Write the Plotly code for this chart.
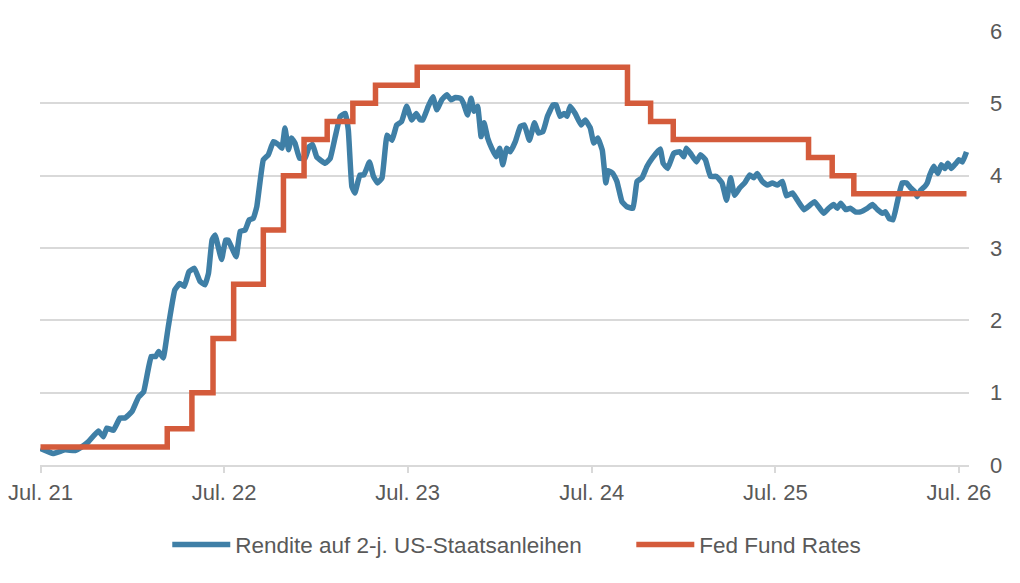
import plotly.graph_objects as go

# 2-year US Treasury yield
blue_dates = [
    "2021-07-01", "2021-07-26", "2021-08-19", "2021-09-08", "2021-09-21", "2021-10-04",
    "2021-10-24", "2021-11-03", "2021-11-10", "2021-11-23", "2021-12-06", "2021-12-16",
    "2021-12-30", "2022-01-12", "2022-01-22", "2022-02-06", "2022-02-15", "2022-02-21",
    "2022-03-02", "2022-03-12", "2022-03-25", "2022-04-04", "2022-04-13", "2022-04-22",
    "2022-05-03", "2022-05-14", "2022-05-24", "2022-05-31", "2022-06-07", "2022-06-13",
    "2022-06-26", "2022-07-04", "2022-07-09", "2022-07-25", "2022-08-02", "2022-08-12",
    "2022-08-20", "2022-08-28", "2022-09-04", "2022-09-17", "2022-09-27", "2022-10-07",
    "2022-10-17", "2022-10-24", "2022-10-30", "2022-11-06", "2022-11-12", "2022-11-19",
    "2022-11-28", "2022-12-09", "2022-12-17", "2022-12-24", "2023-01-01", "2023-01-18",
    "2023-01-28", "2023-02-07", "2023-02-17", "2023-02-27", "2023-03-05", "2023-03-12",
    "2023-03-18", "2023-03-28", "2023-04-05", "2023-04-16", "2023-04-24", "2023-05-02",
    "2023-05-11", "2023-05-21", "2023-05-31", "2023-06-09", "2023-06-19", "2023-06-29",
    "2023-07-09", "2023-07-18", "2023-07-26", "2023-07-31", "2023-08-11", "2023-08-20",
    "2023-08-28", "2023-09-07", "2023-09-17", "2023-09-25", "2023-10-04", "2023-10-14",
    "2023-10-20", "2023-10-28", "2023-11-04", "2023-11-10", "2023-11-17", "2023-11-24",
    "2023-11-30", "2023-12-07", "2023-12-15", "2023-12-24", "2023-12-31", "2024-01-06",
    "2024-01-14", "2024-01-21", "2024-01-31", "2024-02-10", "2024-02-18", "2024-02-28",
    "2024-03-09", "2024-03-17", "2024-03-26", "2024-04-04", "2024-04-15", "2024-04-21",
    "2024-04-29", "2024-05-07", "2024-05-13", "2024-05-19", "2024-05-29", "2024-06-10",
    "2024-06-18", "2024-06-28", "2024-07-05", "2024-07-13", "2024-07-22", "2024-07-29",
    "2024-08-03", "2024-08-12", "2024-08-20", "2024-08-30", "2024-09-09", "2024-09-21",
    "2024-09-29", "2024-10-09", "2024-10-19", "2024-10-29", "2024-11-14", "2024-11-20",
    "2024-11-29", "2024-12-11", "2024-12-23", "2024-12-31", "2025-01-05", "2025-01-13",
    "2025-01-25", "2025-02-02", "2025-02-12", "2025-02-22", "2025-03-06", "2025-03-17",
    "2025-03-26", "2025-04-03", "2025-04-11", "2025-04-21", "2025-05-01", "2025-05-11",
    "2025-05-19", "2025-05-26", "2025-06-05", "2025-06-15", "2025-06-25", "2025-07-05",
    "2025-07-15", "2025-07-23", "2025-08-04", "2025-08-14", "2025-08-27", "2025-09-09",
    "2025-09-17", "2025-09-25", "2025-10-05", "2025-10-15", "2025-10-25", "2025-11-01",
    "2025-11-08", "2025-11-18", "2025-11-27", "2025-12-07", "2025-12-17", "2025-12-31",
    "2026-01-10", "2026-01-20", "2026-01-30", "2026-02-05", "2026-02-12", "2026-02-20",
    "2026-02-28", "2026-03-10", "2026-03-19", "2026-03-27", "2026-04-04", "2026-04-09",
    "2026-04-16", "2026-04-24", "2026-04-29", "2026-05-04", "2026-05-12", "2026-05-20",
    "2026-05-27", "2026-06-03", "2026-06-09", "2026-06-16", "2026-06-25", "2026-07-01",
    "2026-07-08", "2026-07-16",
]
blue_vals = [
    0.23, 0.16, 0.21, 0.20, 0.25, 0.32,
    0.47, 0.39, 0.51, 0.48, 0.65, 0.65,
    0.74, 0.94, 1.01, 1.50, 1.50, 1.57,
    1.48, 1.91, 2.42, 2.51, 2.47, 2.67,
    2.72, 2.54, 2.49, 2.65, 3.11, 3.18,
    2.84, 3.11, 3.11, 2.88, 3.23, 3.25,
    3.39, 3.41, 3.57, 4.22, 4.29, 4.47,
    4.43, 4.38, 4.66, 4.36, 4.52, 4.45,
    4.24, 4.24, 4.40, 4.43, 4.26, 4.17,
    4.24, 4.54, 4.82, 4.86, 4.63, 3.85,
    3.76, 4.01, 4.01, 4.19, 3.99, 3.90,
    3.97, 4.56, 4.49, 4.70, 4.75, 4.96,
    4.77, 4.86, 4.77, 4.77, 4.96, 5.09,
    4.91, 5.05, 5.12, 5.05, 5.08, 5.07,
    5.00, 4.84, 5.07, 4.89, 4.96, 4.54,
    4.73, 4.52, 4.38, 4.26, 4.38, 4.15,
    4.38, 4.33, 4.47, 4.68, 4.70, 4.49,
    4.73, 4.59, 4.61, 4.82, 4.98, 4.98,
    4.82, 4.86, 4.82, 4.96, 4.86, 4.70,
    4.77, 4.66, 4.45, 4.52, 4.35, 3.90,
    4.07, 4.03, 3.92, 3.64, 3.57, 3.55,
    3.92, 3.97, 4.13, 4.24, 4.37, 4.17,
    4.10, 4.31, 4.33, 4.26, 4.38, 4.31,
    4.19, 4.29, 4.22, 3.99, 3.99, 3.90,
    3.66, 3.97, 3.73, 3.83, 3.90, 4.01,
    3.97, 4.03, 3.92, 3.87, 3.90, 3.87,
    3.92, 3.72, 3.76, 3.66, 3.53, 3.60,
    3.64, 3.57, 3.48, 3.55, 3.60, 3.55,
    3.62, 3.53, 3.55, 3.50, 3.50, 3.55,
    3.60, 3.53, 3.48, 3.50, 3.41, 3.39,
    3.62, 3.90, 3.90, 3.83, 3.78, 3.71,
    3.80, 3.85, 3.90, 4.01, 4.13, 4.03,
    4.15, 4.10, 4.17, 4.10, 4.17, 4.22,
    4.19, 4.33,
]

# Fed Funds rate (upper bound), step changes
fed_dates = [
    "2021-07-01", "2022-03-10", "2022-04-28", "2022-06-09", "2022-07-20", "2022-09-17",
    "2022-10-27", "2022-12-07", "2023-01-22", "2023-03-14", "2023-04-28", "2023-07-20",
    "2024-09-10", "2024-10-26", "2024-12-10", "2025-09-05", "2025-10-22", "2025-12-04",
    "2026-07-16",
]
fed_vals = [
    0.25, 0.50, 1.00, 1.75, 2.50, 3.25,
    4.00, 4.50, 4.75, 5.00, 5.25, 5.50,
    5.00, 4.75, 4.50, 4.25, 4.00, 3.75,
    3.75,
]

tick_dates = ["2021-07-01", "2022-07-01", "2023-07-01", "2024-07-01", "2025-07-01", "2026-07-01"]
tick_labels = ["Jul. 21", "Jul. 22", "Jul. 23", "Jul. 24", "Jul. 25", "Jul. 26"]

BLUE = "#3f7fa6"
RED = "#d45b3b"
TEXT = "#595959"
GRID = "#d9d9d9"
FONT = "Liberation Sans, Arial, sans-serif"
FS = 22

fig = go.Figure()
fig.add_trace(go.Scatter(
    x=blue_dates, y=blue_vals, mode="lines", name="Rendite auf 2-j. US-Staatsanleihen",
    line=dict(color=BLUE, width=5.5, shape="spline", smoothing=0.3),
    legend="legend",
))
fig.add_trace(go.Scatter(
    x=fed_dates, y=fed_vals, mode="lines", name="Fed Fund Rates",
    line=dict(color=RED, width=5.5, shape="hv"),
    legend="legend2",
))

legend_style = dict(
    orientation="h", xanchor="left", y=-0.184, yanchor="middle",
    font=dict(family=FONT, size=22.5, color=TEXT), itemwidth=58,
    bgcolor="rgba(0,0,0,0)",
)

# The page body has an 8px default margin, so the figure is sized/offset to compensate.
fig.update_layout(
    width=1012, height=575, autosize=False,
    margin=dict(l=32, r=51, t=23, b=118),
    paper_bgcolor="white", plot_bgcolor="white",
    font=dict(family=FONT, size=FS, color=TEXT),
    showlegend=True,
    legend=dict(x=0.137, **legend_style),
    legend2=dict(x=0.6365, **legend_style),
    xaxis=dict(
        type="date", range=["2021-06-30", "2026-07-21"],
        tickmode="array", tickvals=tick_dates, ticktext=tick_labels,
        showgrid=False, showline=True, linecolor=GRID, linewidth=2,
        ticks="outside", ticklen=6, tickcolor=GRID, tickwidth=1.5,
        tickfont=dict(family=FONT, size=FS, color=TEXT),
        zeroline=False, ticklabelstandoff=1, automargin=False,
    ),
    yaxis=dict(
        range=[0, 6], dtick=1, side="right",
        showgrid=True, gridcolor=GRID, gridwidth=1.5,
        zeroline=False, showline=False, ticks="",
        tickfont=dict(family=FONT, size=FS, color=TEXT),
        ticklabelstandoff=20, automargin=False,
    ),
)

fig.write_html("out.html")
